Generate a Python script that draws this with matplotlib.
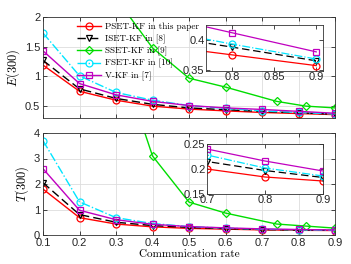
import numpy as np
import matplotlib.pyplot as plt

plt.rcParams['mathtext.fontset'] = 'cm'
plt.rcParams['font.family'] = 'Liberation Sans'
plt.rcParams['axes.formatter.use_mathtext'] = True

rate = [0.1, 0.2, 0.3, 0.4, 0.5, 0.6, 0.7, 0.8, 0.9]
rate_sset = [0.1, 0.2, 0.3, 0.4, 0.5, 0.6, 0.74, 0.82, 0.9]

names = ['PSET-KF in this paper', 'ISET-KF in [8]', 'SSET-KF in [9]',
         'FSET-KF in [10]', 'V-KF in [7]']

# E(300)
e_pset = [1.19, 0.75, 0.60, 0.50, 0.45, 0.42, 0.393, 0.375, 0.357]
e_iset = [1.27, 0.79, 0.63, 0.53, 0.47, 0.44, 0.41, 0.388, 0.365]
e_sset = [6.0, 4.0, 2.32, 1.48, 0.97, 0.82, 0.58, 0.50, 0.47]
e_fset = [1.73, 1.01, 0.73, 0.60, 0.51, 0.46, 0.42, 0.393, 0.368]
e_vkf = [1.43, 0.88, 0.69, 0.58, 0.51, 0.47, 0.444, 0.412, 0.38]

# T(300)
t_pset = [1.80, 0.68, 0.43, 0.32, 0.26, 0.23, 0.20, 0.184, 0.176]
t_iset = [2.05, 0.80, 0.50, 0.37, 0.30, 0.25, 0.215, 0.197, 0.183]
t_sset = [12.0, 9.0, 7.4, 3.1, 1.29, 0.86, 0.43, 0.35, 0.27]
t_fset = [3.70, 1.30, 0.68, 0.45, 0.33, 0.27, 0.228, 0.202, 0.186]
t_vkf = [2.60, 0.97, 0.60, 0.42, 0.33, 0.28, 0.24, 0.216, 0.196]

styles = [
    dict(color='#ff0000', ls='-', marker='o'),
    dict(color='black', ls=(0, (6, 3)), marker='v'),
    dict(color='#00dd00', ls='-', marker='D', ms=4),
    dict(color='#00e5ff', ls='-.', marker='o'),
    dict(color='#c000c0', ls='-', marker='s', ms=4.5),
]


def draw(ax, ys, ms=5, lw=1.0):
    xs = [rate, rate, rate_sset, rate, rate]
    for x, y, st, nm in zip(xs, ys, styles, names):
        st = dict(st)
        m = st.pop('ms', ms)
        ax.plot(x, y, lw=lw, ms=m, mfc='none', mew=0.9, label=nm, **st)


def style(ax, size=8):
    ax.grid(True, color='#dddddd', lw=0.6)
    ax.tick_params(direction='in', top=True, right=True, labelsize=size,
                   length=3, width=0.5, pad=2, labelcolor='#262626')
    for s in ax.spines.values():
        s.set_linewidth(0.6)
        s.set_color('#333333')


fig = plt.figure(figsize=(3.51, 2.64), dpi=100)
ax1 = fig.add_axes([43 / 351, 1 - 118 / 264, 292 / 351, 101 / 264])
ax2 = fig.add_axes([43 / 351, 1 - 235 / 264, 292 / 351, 102 / 264])

draw(ax1, [e_pset, e_iset, e_sset, e_fset, e_vkf])
ax1.set_xlim(0.1, 0.9)
ax1.set_ylim(0.3, 2)
ax1.set_xticks(rate)
ax1.set_xticklabels([])
ax1.set_yticks([0.5, 1, 1.5, 2])
ax1.set_yticklabels(['0.5', '1', '1.5', '2'])
ax1.set_ylabel(r'$E(300)$', fontsize=9, labelpad=2)
style(ax1)
leg = ax1.legend(loc='upper left', bbox_to_anchor=(0.095, 1.0), frameon=False,
                 prop={'family': 'cmr10', 'size': 6.6},
                 handlelength=2.7, handletextpad=0.35, labelspacing=0.33,
                 borderaxespad=0.25)

draw(ax2, [t_pset, t_iset, t_sset, t_fset, t_vkf])
ax2.set_xlim(0.1, 0.9)
ax2.set_ylim(0, 4)
ax2.set_xticks(rate)
ax2.set_xticklabels([str(r) for r in rate])
ax2.set_yticks([0, 1, 2, 3, 4])
ax2.set_yticklabels(['0', '1', '2', '3', '4'])
ax2.set_ylabel(r'$T(300)$', fontsize=9, labelpad=2)
ax2.set_xlabel('Communication rate', fontsize=8, family='cmr10',
               labelpad=1)
style(ax2)

# insets
in1 = fig.add_axes([206 / 351, 1 - 71 / 264, 117 / 351, 46 / 264])
draw(in1, [e_pset, e_iset, e_sset, e_fset, e_vkf], ms=5, lw=0.9)
in1.set_xlim(0.769, 0.908)
in1.set_ylim(0.348, 0.425)
in1.set_xticks([0.8, 0.85, 0.9])
in1.set_xticklabels(['0.8', '0.85', '0.9'])
in1.set_yticks([0.35, 0.4])
in1.set_yticklabels(['0.35', '0.4'])
style(in1, size=8)
in1.grid(False)
in1.tick_params(pad=1)

in2 = fig.add_axes([207 / 351, 1 - 194 / 264, 116 / 351, 50 / 264])
draw(in2, [t_pset, t_iset, t_sset, t_fset, t_vkf], ms=5, lw=0.9)
in2.set_xlim(0.7, 0.9)
in2.set_ylim(0.15, 0.25)
in2.set_xticks([0.7, 0.8, 0.9])
in2.set_xticklabels(['0.7', '0.8', '0.9'])
in2.set_yticks([0.15, 0.2, 0.25])
in2.set_yticklabels(['0.15', '0.2', '0.25'])
style(in2, size=8)
in2.grid(False)
in2.tick_params(pad=1)

fig.savefig('out.png', dpi=100)
